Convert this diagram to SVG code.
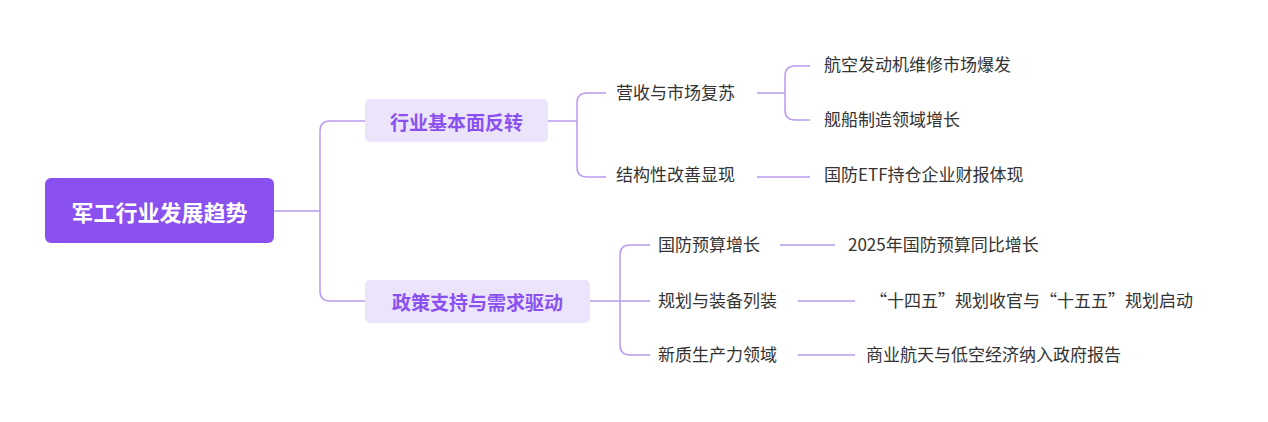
<svg xmlns="http://www.w3.org/2000/svg" width="1268" height="422" viewBox="0 0 1268 422">
<style>
.c{fill:none;stroke:#b99af0;stroke-width:1.5}
.t{font-family:"Noto Sans CJK SC","Noto Sans",sans-serif;font-size:17px;fill:#333;dominant-baseline:central}
.b{font-family:"Noto Sans CJK SC",sans-serif;font-size:19px;font-weight:bold;fill:#8a50f0;text-anchor:middle;dominant-baseline:central}
</style>
<rect width="1268" height="422" fill="#fff"/>
<g id="connectors">
<path class="c" d="M274 211H320M320 211V131Q320 121 330 121H365M320 211V291Q320 301 330 301H365"/>
<path class="c" d="M548 121H577M577 121V103Q577 93 587 93H606M577 121V167Q577 177 587 177H606"/>
<path class="c" d="M757 93H785M785 93V76Q785 66 795 66H810M785 93V110Q785 120 795 120H810M757 177H810"/>
<path class="c" d="M590 301H620M620 301V255Q620 245 630 245H650M620 301H650M620 301V345Q620 355 630 355H650"/>
<path class="c" d="M780 245H835M798 301H855M798 355H855"/>
</g>
<g id="root"><rect x="45" y="178" width="229" height="65" rx="6" fill="#8a50f0"/>
<text x="159.5" y="211" font-family="Noto Sans CJK SC,sans-serif" font-size="22" font-weight="bold" fill="#fff" text-anchor="middle" dominant-baseline="central">军工行业发展趋势</text></g>
<g id="b1"><rect x="365" y="99" width="183" height="43" rx="5" fill="#ece4fb"/><text class="b" x="456.5" y="121">行业基本面反转</text></g>
<g id="b2"><rect x="365" y="280" width="225" height="43" rx="5" fill="#ece4fb"/><text class="b" x="477.5" y="301">政策支持与需求驱动</text></g>
<g id="n1"><text class="t" x="616" y="91">营收与市场复苏</text></g>
<g id="n2"><text class="t" x="616" y="173">结构性改善显现</text></g>
<g id="l1"><text class="t" x="824" y="63">航空发动机维修市场爆发</text></g>
<g id="l2"><text class="t" x="824" y="118">舰船制造领域增长</text></g>
<g id="l3"><text class="t" x="824" y="173">国防ETF持仓企业财报体现</text></g>
<g id="n3"><text class="t" x="658" y="243">国防预算增长</text></g>
<g id="n4"><text class="t" x="658" y="299">规划与装备列装</text></g>
<g id="n5"><text class="t" x="658" y="353">新质生产力领域</text></g>
<g id="l4"><text class="t" x="848" y="243">2025年国防预算同比增长</text></g>
<g id="l5"><text class="t" x="870" y="299">“十四五”规划收官与“十五五”规划启动</text></g>
<g id="l6"><text class="t" x="866" y="353">商业航天与低空经济纳入政府报告</text></g>
</svg>
